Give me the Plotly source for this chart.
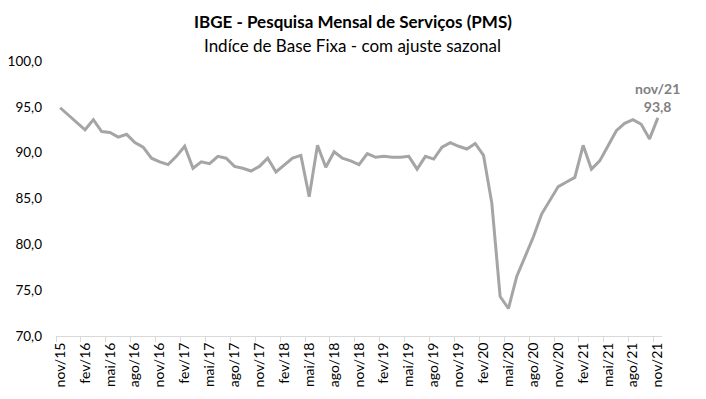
import plotly.graph_objects as go

months = ["jan", "fev", "mar", "abr", "mai", "jun", "jul", "ago", "set", "out", "nov", "dez"]
categories = []
m, yr = 10, 15
for _ in range(73):
    categories.append(f"{months[m]}/{yr}")
    m += 1
    if m == 12:
        m, yr = 0, yr + 1

values = [94.9, 94.1, 93.4, 92.5, 93.6, 92.3, 92.2, 91.7, 92.0, 91.1,
          90.6, 89.4, 89.0, 88.7, 89.6, 90.7, 88.3, 89.0, 88.8, 89.6,
          89.4, 88.5, 88.3, 88.0, 88.5, 89.4, 87.9, 88.7, 89.4, 89.7,
          85.2, 90.8, 88.4, 90.1, 89.4, 89.1, 88.7, 89.9, 89.5, 89.6,
          89.5, 89.5, 89.6, 88.2, 89.6, 89.3, 90.6, 91.1, 90.7, 90.4,
          91.0, 89.7, 84.5, 74.3, 73.0, 76.5, 78.7, 80.8, 83.3, 84.8,
          86.3, 86.8, 87.3, 90.8, 88.2, 89.1, 90.7, 92.4, 93.2, 93.6,
          93.1, 91.5, 93.8]

title = "IBGE - Pesquisa Mensal de Serviços (PMS)"
subtitle = "Indíce de Base Fixa - com ajuste sazonal"
y_ticks = [70, 75, 80, 85, 90, 95, 100]

xs = list(range(len(values)))
tick_idx = list(range(0, len(values), 3))

FONT = "Lato"

fig = go.Figure()
fig.add_trace(go.Scatter(
    x=xs, y=values, mode="lines",
    line=dict(color="#A5A5A5", width=3),
    hoverinfo="skip", showlegend=False,
))

last = len(values) - 1
fig.add_annotation(
    x=last, y=values[last], xref="x", yref="y",
    text=f"{categories[last]}<br>{values[last]:.1f}".replace(".", ","),
    showarrow=False, yanchor="bottom", xanchor="center", yshift=1,
    font=dict(family=FONT, size=14, color="#7F7F7F", weight="bold"),
)

fig.add_annotation(
    x=0.49, y=1.142, xref="paper", yref="paper", text=f"<b>{title}</b>",
    showarrow=False, xanchor="center", yanchor="middle",
    font=dict(family=FONT, size=17, color="#000000"),
)
fig.add_annotation(
    x=0.49, y=1.058, xref="paper", yref="paper", text=subtitle,
    showarrow=False, xanchor="center", yanchor="middle",
    font=dict(family=FONT, size=17, color="#000000"),
)

fig.update_layout(
    width=706, height=399,
    margin=dict(l=48, r=52, t=53, b=71, autoexpand=False),
    paper_bgcolor="white", plot_bgcolor="white",
    separators=",.",
    font=dict(family=FONT, size=14, color="#000000"),
)
fig.update_xaxes(
    range=[-0.5, len(values) - 0.5], automargin=False,
    tickmode="array", tickvals=tick_idx, ticktext=[categories[i] for i in tick_idx],
    tickangle=-90, ticks="", showgrid=False, zeroline=False,
    showline=True, linecolor="#D9D9D9", linewidth=1,
    tickfont=dict(family=FONT, size=14, color="#000000"),
    minor=dict(tick0=-0.5, dtick=3, ticks="outside", ticklen=5, tickcolor="#D9D9D9", showgrid=False),
)
fig.update_yaxes(
    range=[70, 100], tickmode="array", tickvals=y_ticks, tickformat=".1f",
    automargin=False,
    showgrid=False, zeroline=False, showline=False, ticks="",
    ticklabelstandoff=13,
    tickfont=dict(family=FONT, size=13.5, color="#000000"),
)

fig.write_html("out.html")
